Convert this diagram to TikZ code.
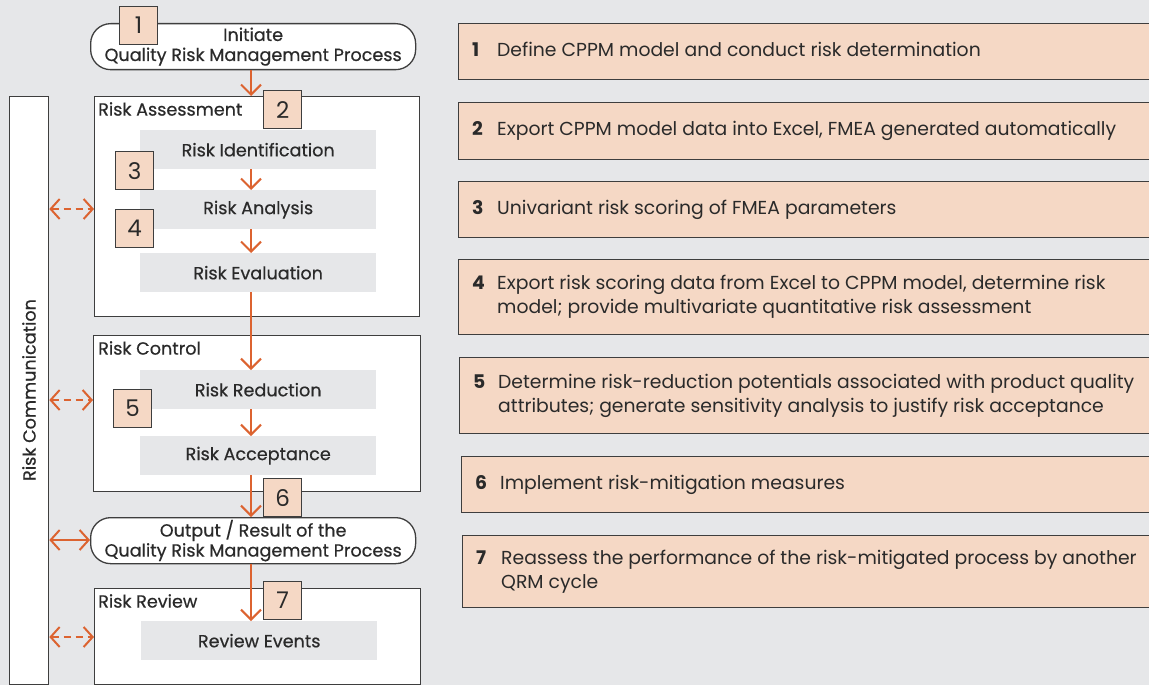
\documentclass[tikz,border=0pt]{standalone}
\usepackage{fontspec}
\setmainfont{Poppins}
\newfontfamily\labelfont{Poppins}[FakeBold=0.5]
\usetikzlibrary{arrows.meta}

\definecolor{bg}{HTML}{E6E7E9}
\definecolor{qorange}{HTML}{DC6330}
\definecolor{peach}{HTML}{F5D8C5}
\definecolor{edge}{HTML}{3E3E3E}
\definecolor{ink}{HTML}{2A2A2A}

\tikzset{
  frame/.style={draw=edge, line width=1.3pt, fill=white, anchor=north west, inner sep=0pt},
  pill/.style={draw=edge, line width=1.3pt, fill=white, rounded corners=20pt,
    minimum width=325pt, minimum height=46pt, anchor=north west, align=center,
    text=ink, font=\labelfont\fontsize{17.6}{20}\selectfont, inner sep=0pt},
  stage/.style={fill=bg, anchor=north west, minimum width=236pt, minimum height=39pt,
    inner sep=0pt, text=ink, font=\labelfont\fontsize{17.6}{20}\selectfont},
  tag/.style={draw=edge, line width=1.3pt, fill=peach, anchor=north west,
    minimum width=38pt, minimum height=38pt, inner sep=0pt, text=ink,
    font=\fontsize{23}{24}\selectfont},
  heading/.style={anchor=west, inner sep=0pt, text=ink, font=\labelfont\fontsize{17.6}{20}\selectfont},
  note/.style={draw=edge, line width=1.3pt, fill=peach, anchor=north west,
    minimum width=700pt, inner sep=0pt},
  notetext/.style={anchor=west, inner sep=0pt, align=left, text=ink,
    font=\fontsize{18.8}{24}\selectfont},
  flow/.style={draw=qorange, line width=2pt, -{Straight Barb[length=10pt,width=20pt,line width=2pt]}},
  talk/.style={draw=qorange, line width=2pt,
    {Straight Barb[length=9pt,width=20pt,line width=2pt]}-{Straight Barb[length=9pt,width=20pt,line width=2pt]}},
  linkdash/.style={dash pattern=on 7pt off 5pt},
}

\newcommand\notebody[2]{\begin{tabular}{@{}p{25pt}@{}l@{}}\textbf{#1} & #2\end{tabular}}

\begin{document}
\begin{tikzpicture}[x=1pt,y=-1pt]
  \fill[bg] (0,0) rectangle (1149,685);
  \useasboundingbox (0,0) rectangle (1149,685);
  \clip (0,0) rectangle (1149,685);

  \coordinate (spine) at (251,0);

  % Risk communication column
  \node[frame, minimum width=39pt, minimum height=588pt] (comm) at (9,96) {};
  \node[rotate=90, text=ink, font=\labelfont\fontsize{17.6}{20}\selectfont] (commlabel) at (29,390) {Risk Communication};

  % process frames
  \node[pill] (init) at (90,23) {\raisebox{-2pt}{Initiate}\\\raisebox{-2pt}{Quality Risk Management Process}};
  \node[frame, minimum width=325pt, minimum height=220pt] (assess) at (94,96) {};
  \node[heading] (assesslabel) at (98,109) {Risk Assessment};
  \node[frame, minimum width=327pt, minimum height=156pt] (control) at (93,335) {};
  \node[heading] (controllabel) at (98,348) {Risk Control};
  \node[pill] (out) at (90,517) {Output / Result of the\\Quality Risk Management Process};
  \node[frame, minimum width=326pt, minimum height=96pt] (review) at (94,588) {};
  \node[heading] (reviewlabel) at (98,601) {Risk Review};

  % stages
  \node[stage] (ident) at (140,130) {Risk Identification};
  \node[stage] (anal) at (140,190) {Risk Analysis};
  \node[stage] (evalu) at (140,253) {Risk Evaluation};
  \node[stage] (reduce) at (140,370) {Risk Reduction};
  \node[stage] (accept) at (140,436) {Risk Acceptance};
  \node[stage] (events) at (141,621) {Review Events};

  % main flow
  \draw[flow] (init.south -| spine) -- (assess.north -| spine);
  \draw[flow] (ident.south -| spine) -- (anal.north -| spine);
  \draw[flow] (anal.south -| spine) -- (evalu.north -| spine);
  \draw[flow] (evalu.south -| spine) -- (reduce.north -| spine);
  \draw[flow] (reduce.south -| spine) -- (accept.north -| spine);
  \draw[flow] (accept.south -| spine) -- (out.north -| spine);
  \draw[flow] (out.south -| spine) -- (events.north -| spine);

  % communication links
  \draw[talk, linkdash] (comm.east |- 0,209) -- (assess.west |- 0,209);
  \draw[talk, linkdash] (comm.east |- 0,400) -- (control.west |- 0,400);
  \draw[talk] (comm.east |- 0,540) -- (out.west |- 0,540);
  \draw[talk, linkdash] (comm.east |- 0,637) -- (review.west |- 0,637);

  % step tags
  \node[tag] (t1) at (119,6) {1};
  \node[tag] (t2) at (263,90) {2};
  \node[tag] (t3) at (115,151) {3};
  \node[tag] (t4) at (115,209) {4};
  \node[tag] (t5) at (113,389) {5};
  \node[tag] (t6) at (263,478) {6};
  \node[tag] (t7) at (263,581) {7};

  % step descriptions
  \node[note, minimum height=56pt] (n1) at (458,23) {};
  \node[note, minimum height=57pt] (n2) at (458,102) {};
  \node[note, minimum height=56pt] (n3) at (458,181) {};
  \node[note, minimum height=75pt] (n4) at (458,259) {};
  \node[note, minimum height=76pt] (n5) at (459,357) {};
  \node[note, minimum height=56pt] (n6) at (461,456) {};
  \node[note, minimum height=72pt] (n7) at (462,535) {};

  \node[notetext] (d1) at ([xshift=14pt]n1.west) {\notebody{1}{Define CPPM model and conduct risk determination}};
  \node[notetext] (d2) at ([xshift=14pt]n2.west) {\notebody{2}{Export CPPM model data into Excel, FMEA generated automatically}};
  \node[notetext] (d3) at ([xshift=14pt]n3.west) {\notebody{3}{Univariant risk scoring of FMEA parameters}};
  \node[notetext] (d4) at ([xshift=14pt]n4.west) {\notebody{4}{Export risk scoring data from Excel to CPPM model, determine risk\\ & model; provide multivariate quantitative risk assessment}};
  \node[notetext] (d5) at ([xshift=14pt]n5.west) {\notebody{5}{Determine risk-reduction potentials associated with product quality\\ & attributes; generate sensitivity analysis to justify risk acceptance}};
  \node[notetext] (d6) at ([xshift=14pt]n6.west) {\notebody{6}{Implement risk-mitigation measures}};
  \node[notetext] (d7) at ([xshift=14pt]n7.west) {\notebody{7}{Reassess the performance of the risk-mitigated process by another\\ & QRM cycle}};
\end{tikzpicture}
\end{document}
